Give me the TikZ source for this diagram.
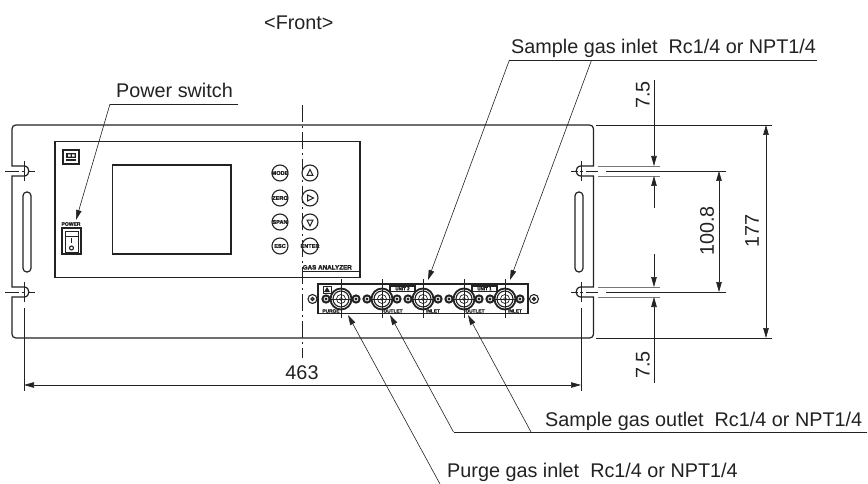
\documentclass[tikz,border=0pt]{standalone}
\usepackage{fontspec}
\setmainfont{Liberation Sans}
\newfontfamily\blobfont[FakeBold=2.5]{Liberation Sans Bold}
\usetikzlibrary{arrows.meta}
\definecolor{ink}{HTML}{222222}
\definecolor{greyln}{HTML}{777777}
\newcommand{\lbl}{\fontsize{19.8}{22}\selectfont}
\newcommand{\tinyb}{\blobfont\fontsize{5}{6}\selectfont}
\tikzset{
  x=1pt,y=-1pt,
  outline/.style={draw=ink,line width=1.2pt},
  thinln/.style={draw=ink,line width=0.6pt},
  centerln/.style={draw=ink,line width=0.6pt,dash pattern=on 17pt off 4pt on 2pt off 4pt},
  ghost/.style={draw=greyln,line width=0.7pt},
  leaderarrow/.style={thinln,-{Stealth[length=10pt,width=5.5pt,inset=0pt]}},
  dimarrow/.style={thinln,-{Stealth[length=10pt,width=5.5pt,inset=0pt]}},
  dimboth/.style={thinln,{Stealth[length=10pt,width=5.5pt,inset=0pt]}-{Stealth[length=10pt,width=5.5pt,inset=0pt]}},
  labeltext/.style={anchor=base west,inner sep=0pt,text=ink,font=\lbl},
  dimtext/.style={anchor=center,inner sep=0pt,text=ink,font=\lbl},
  tinytext/.style={anchor=center,inner sep=0pt,text=ink,font=\tinyb},
  button/.style={circle,draw=ink,line width=1.1pt,minimum size=16pt,inner sep=0pt,fill=white},
}
\begin{document}
\begin{tikzpicture}
\useasboundingbox (0,0) rectangle (868,484);
\fill[white] (0,0) rectangle (868,484);

% ---------- outer panel with notches
\path[outline] (16,125) -- (589.5,125) .. controls (592,125) and (593.5,126.5) .. (593.5,129)
  -- (593.5,166) -- (581,166) .. controls (574.5,166) and (574.5,176) .. (581,176) -- (593.5,176)
  -- (593.5,287) -- (581,287) .. controls (574.5,287) and (574.5,297) .. (581,297) -- (593.5,297)
  -- (593.5,334) .. controls (593.5,336.5) and (592,338) .. (589.5,338)
  -- (16,338) .. controls (13.5,338) and (12,336.5) .. (12,334)
  -- (12,297) -- (24,297) .. controls (30.5,297) and (30.5,287) .. (24,287) -- (12,287)
  -- (12,176) -- (24,176) .. controls (30.5,176) and (30.5,166) .. (24,166) -- (12,166)
  -- (12,129) .. controls (12,126.5) and (13.5,125) .. (16,125) -- cycle;
\draw[outline,rounded corners=3.8pt] (23,192) rectangle (31,272);
\draw[outline,rounded corners=3.8pt] (575,192) rectangle (583,272);

% ---------- slot centre marks
\foreach \yy in {171,292}{
  \draw[thinln] (24,\yy-10) -- (24,\yy+10);
  \draw[thinln] (581,\yy-10) -- (581,\yy+10);
  \draw[thinln] (5,\yy) -- (19,\yy) (21.5,\yy) -- (25,\yy) (27.5,\yy) -- (35,\yy);
  \draw[thinln] (571,\yy) -- (578,\yy) (580,\yy) -- (583,\yy) (586,\yy) -- (598,\yy) (606,\yy) -- (726,\yy);
  \draw[ghost] (598,\yy-5) -- (660,\yy-5) (598,\yy+5) -- (660,\yy+5);
}

% ---------- display panel
\draw[outline] (55,141.5) rectangle (360,277.5);
\draw[outline] (302,271.5) -- (360,271.5);
\draw[outline] (112.5,165) rectangle (231,254);
\draw[centerln] (302,105) -- (302,358);

% logo
\draw[ink,line width=1.2pt,fill=white] (63,150) rectangle (79,164);
\fill[ink] (66,153) rectangle (76,158);
\fill[white] (68,154.3) rectangle (70.5,156.7) (72,154.3) rectangle (74.5,156.7);
\fill[ink] (66,159.5) rectangle (76,161.5);

% power switch
\node[tinytext] (powerlabel) at (71,224) {POWER};
\draw[ink,line width=1.5pt] (62,228) rectangle (81,254);
\draw[ink,line width=0.9pt] (65,231) rectangle (78,252);
\draw[ink,line width=0.9pt] (65,236) -- (78,236);
\draw[ink,line width=1.1pt] (71.5,238) -- (71.5,243);
\draw[ink,line width=1.1pt] (71.5,248) circle[radius=2pt];

% buttons
\node[button] (bmode) at (280,173) {};
\node[button] (bzero) at (280,198) {};
\node[button] (bspan) at (280,222) {};
\node[button] (besc)  at (280,246) {};
\node[tinytext] at (bmode) {\fontsize{5.6}{6}\selectfont MODE};
\node[tinytext] at (bzero) {\fontsize{5.6}{6}\selectfont ZERO};
\node[tinytext] at (bspan) {\fontsize{5.6}{6}\selectfont SPAN};
\node[tinytext] at (besc)  {\fontsize{5.6}{6}\selectfont ESC};
\node[button] (bup)    at (310,173) {};
\node[button] (bright) at (310,198) {};
\node[button] (bdown)  at (310,222) {};
\node[button] (benter) at (310,246) {};
\node[tinytext] at (benter) {\fontsize{5.6}{6}\selectfont ENTER};
\draw[ink,line width=1pt] (310,169.5) -- (313,175.5) -- (307,175.5) -- cycle;
\draw[ink,line width=1pt] (307.5,195) -- (313.5,198) -- (307.5,201) -- cycle;
\draw[ink,line width=1pt] (307,220) -- (313,220) -- (310,226) -- cycle;
\node[anchor=base west,inner sep=0pt,text=ink,font=\blobfont\fontsize{6.3}{7}\selectfont] (ganalyzer) at (302.5,269.5) {GAS ANALYZER};

% ---------- connector plate
\draw[outline] (318,284) rectangle (528,313.5);
\draw[ink,line width=1pt] (323,286) rectangle (331,293);
\fill[ink] (327,287) -- (330,292) -- (324,292) -- cycle;
\foreach \sx in {312.5,534}{
  \draw[ink,line width=1.1pt] (\sx,299) circle[radius=4.5pt];
  \draw[ink,line width=1.1pt] (\sx,299) circle[radius=1.5pt];
}
\foreach \cx in {341,382,423,464,505}{
  \foreach \nx in {-15,15}{
    \draw[ink,line width=2pt] (\cx+\nx,299) circle[radius=3.6pt];
    \fill[ink] (\cx+\nx,299) circle[radius=1.6pt];
  }
  \draw[ink,line width=1.8pt,fill=white] (\cx,299) circle[radius=10.5pt];
  \draw[ink,line width=1.1pt] (\cx,299) circle[radius=8pt];
  \draw[ink,line width=0.7pt] (\cx,299) circle[radius=4.5pt];
  \draw[ink,line width=0.5pt] (\cx,299) circle[radius=1.6pt];
  \draw[ink,line width=0.5pt] (\cx,279) -- (\cx,318);
  \draw[ink,line width=0.5pt] (\cx-12,299) -- (\cx+12,299);
}
\foreach \bx/\un in {390/UNIT 2,472/UNIT 1}{
  \draw[ink,line width=1.1pt,fill=white] (\bx,286) rectangle (\bx+25,291.5);
  \node[tinytext] at (\bx+12.5,288.8) {\fontsize{4.5}{5}\selectfont \un};
}
\node[tinytext] (lpurge) at (331,311) {\fontsize{4.8}{5}\selectfont PURGE};
\node[tinytext] (lout1)  at (393,311) {\fontsize{4.8}{5}\selectfont OUTLET};
\node[tinytext] (lin1)   at (433,311) {\fontsize{4.8}{5}\selectfont INLET};
\node[tinytext] (lout2)  at (475,311) {\fontsize{4.8}{5}\selectfont OUTLET};
\node[tinytext] (lin2)   at (515,311) {\fontsize{4.8}{5}\selectfont INLET};

% ---------- labels and leaders
\node[labeltext] (front) at (264,30) {<Front>};

\node[labeltext] (tpower) at (116,97.5) {Power switch};
\coordinate (p1) at (110,104); \coordinate (p2) at (238,104); \coordinate (p3) at (76,220);
\draw[thinln] (p2) -- (p1);
\draw[leaderarrow] (p1) -- (p3);

\node[labeltext] (tsin) at (511,54) {Sample gas inlet\ \ Rc1/4 or NPT1/4};
\coordinate (si1) at (509.4,60); \coordinate (si2) at (591.6,60); \coordinate (si3) at (817,60);
\coordinate (sit1) at (428,280); \coordinate (sit2) at (510,280);
\draw[thinln] (si3) -- (si1);
\draw[leaderarrow] (si1) -- (sit1);
\draw[leaderarrow] (si2) -- (sit2);

\node[labeltext] (tsout) at (545,426) {Sample gas outlet\ \ Rc1/4 or NPT1/4};
\coordinate (so1) at (453.5,432); \coordinate (so2) at (531,432); \coordinate (so3) at (867,432);
\coordinate (sot1) at (390,315); \coordinate (sot2) at (468,315);
\draw[thinln] (so3) -- (so1);
\draw[leaderarrow] (so1) -- (sot1);
\draw[leaderarrow] (so2) -- (sot2);

\node[labeltext] (tpurge) at (447,477) {Purge gas inlet\ \ Rc1/4 or NPT1/4};
\coordinate (pg1) at (440,484); \coordinate (pgt) at (348,315);
\draw[leaderarrow] (pg1) -- (pgt);

% ---------- dimensions
\coordinate (d463a) at (24,385); \coordinate (d463b) at (581,385);
\draw[thinln] (24,308) -- (24,391);
\draw[thinln] (581,308) -- (581,391);
\draw[dimboth] (d463a) -- (d463b);
\node[dimtext] (t463) at (302,373) {463};

\draw[thinln] (596,125) -- (772,125) (596,338) -- (772,338);
\coordinate (d177a) at (766,125); \coordinate (d177b) at (766,338);
\draw[dimboth] (d177a) -- (d177b);
\node[dimtext,rotate=90] (t177) at (752,231) {177};

\coordinate (d100a) at (719,171); \coordinate (d100b) at (719,292);
\draw[dimboth] (d100a) -- (d100b);
\node[dimtext,rotate=90] (t100) at (707,231) {100.8};

\coordinate (u1) at (654,80); \coordinate (u2) at (654,166);
\coordinate (u3) at (654,208); \coordinate (u4) at (654,176);
\coordinate (l1) at (654,254); \coordinate (l2) at (654,287);
\coordinate (l3) at (654,383); \coordinate (l4) at (654,297);
\draw[dimarrow] (u1) -- (u2);
\draw[dimarrow] (u3) -- (u4);
\draw[dimarrow] (l1) -- (l2);
\draw[dimarrow] (l3) -- (l4);
\node[dimtext,rotate=90] (t75a) at (643,95) {7.5};
\node[dimtext,rotate=90] (t75b) at (643,365) {7.5};
\end{tikzpicture}
\end{document}
